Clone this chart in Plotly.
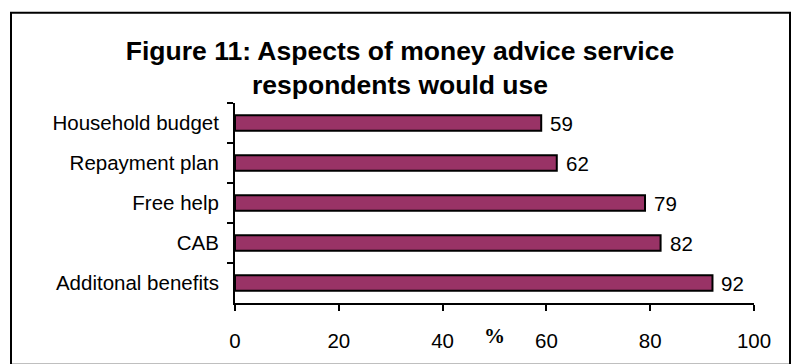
import plotly.graph_objects as go

# Survey results: share of respondents who would use each service aspect (%)
categories = ["Household budget", "Repayment plan", "Free help", "CAB", "Additonal benefits"]
values = [59, 62, 79, 82, 92]
x_ticks = [0, 20, 40, 60, 80, 100]

W, H = 793, 364
M_L, M_R, M_T, M_B = 235, 39, 103, 57
plot_w = W - M_L - M_R
plot_h = H - M_T - M_B

BODY = "Liberation Sans, Arial, sans-serif"
FS = 20.5

fig = go.Figure(
    go.Bar(
        x=values,
        y=categories,
        orientation="h",
        marker=dict(color="#993366", line=dict(color="black", width=2)),
        hoverinfo="x+y",
    )
)

# value labels just past the end of each bar
for cat, val in zip(categories, values):
    fig.add_annotation(
        x=val, y=cat, text=str(val), showarrow=False,
        xanchor="left", yanchor="middle", xshift=7,
        font=dict(family=BODY, size=FS, color="black"),
    )

# outer chart frame, expressed in paper coordinates of the plot area
def px_to_paper_x(px):
    return (px - M_L) / plot_w

def px_to_paper_y(py):
    return (H - M_B - py) / plot_h

fig.add_shape(
    type="rect", xref="paper", yref="paper",
    x0=px_to_paper_x(11), x1=px_to_paper_x(790),
    y0=px_to_paper_y(370), y1=px_to_paper_y(11),
    line=dict(color="black", width=2), fillcolor="rgba(0,0,0,0)", layer="below",
)

# "%" axis caption
fig.add_annotation(
    text="<b>%</b>", xref="paper", yref="paper",
    x=px_to_paper_x(494), y=px_to_paper_y(341),
    xanchor="center", yanchor="middle", showarrow=False,
    font=dict(family="Liberation Serif, Times New Roman, serif", size=21, color="black"),
)

fig.update_layout(
    width=W, height=H,
    margin=dict(l=M_L, r=M_R, t=M_T, b=M_B, pad=0),
    paper_bgcolor="white", plot_bgcolor="white",
    showlegend=False,
    bargap=0.61,
    title=dict(
        text="<b>Figure 11: Aspects of money advice service<br>respondents would use</b>",
        font=dict(family=BODY, size=26.5, color="black"),
        x=400 / W, xanchor="center", xref="container",
        y=1 - 60 / H, yanchor="top", yref="container",
    ),
    xaxis=dict(
        range=[0, 100], tickvals=x_ticks, ticktext=[str(t) for t in x_ticks],
        showgrid=False, zeroline=False,
        showline=True, linecolor="black", linewidth=2,
        ticks="outside", ticklen=6, tickwidth=2, tickcolor="black",
        tickfont=dict(family=BODY, size=FS, color="black"),
        ticklabelstandoff=12,
    ),
    yaxis=dict(
        autorange="reversed",
        showgrid=False, zeroline=False,
        showline=True, linecolor="black", linewidth=2,
        ticks="outside", ticklen=6, tickwidth=2, tickcolor="black",
        tickson="boundaries",
        tickfont=dict(family=BODY, size=FS, color="black"),
        ticklabelstandoff=10,
    ),
)

fig.write_html("out.html")
